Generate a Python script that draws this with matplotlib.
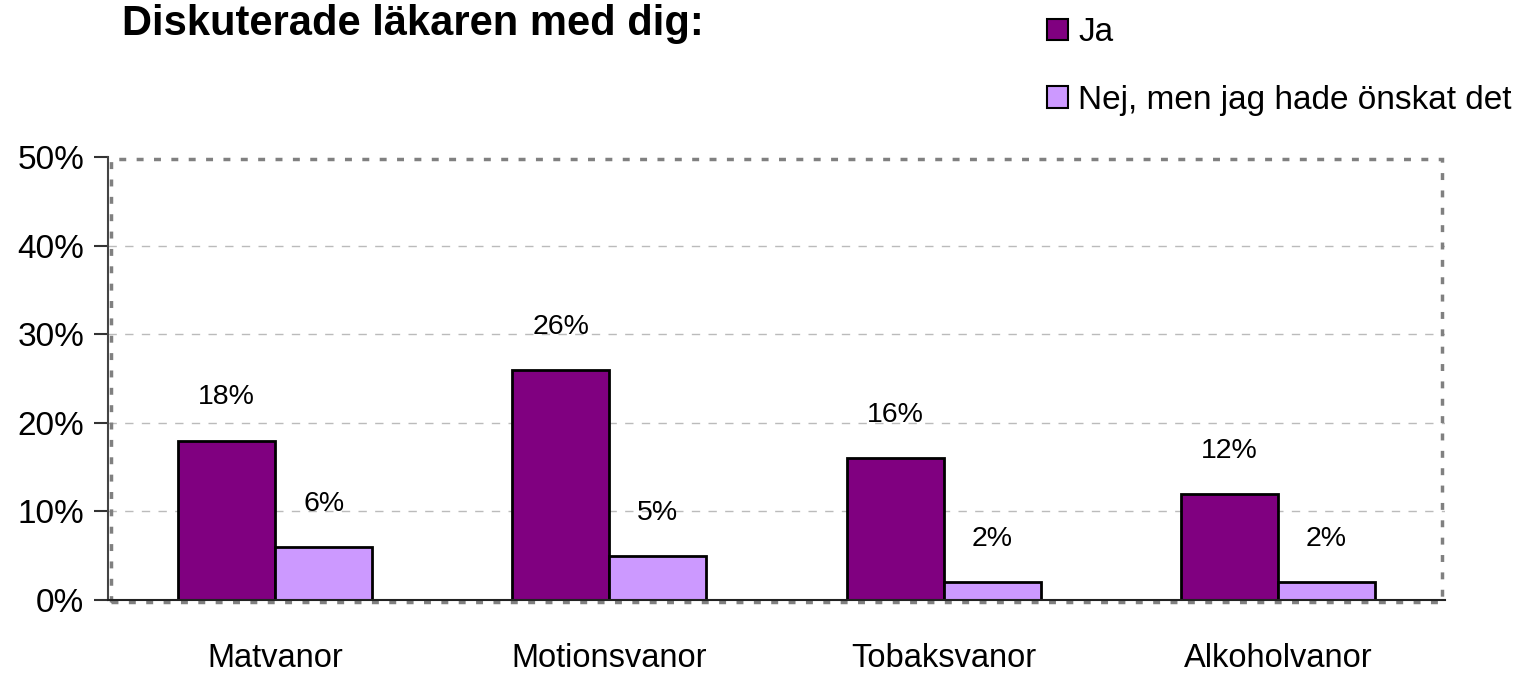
import matplotlib
matplotlib.use("Agg")
import matplotlib.pyplot as plt
from matplotlib.patches import Rectangle
import numpy as np

categories = ["Matvanor", "Motionsvanor", "Tobaksvanor", "Alkoholvanor"]
ja = [18, 26, 16, 12]
nej = [6, 5, 2, 2]
series_names = ["Ja", "Nej, men jag hade önskat det"]
yticks = [0, 10, 20, 30, 40, 50]
title = "Diskuterade läkaren med dig:"

plt.rcParams['font.family'] = ['Liberation Sans', 'DejaVu Sans']

W, H = 1533, 675
fig = plt.figure(figsize=(W/100, H/100), dpi=100)
ax = fig.add_axes([108/W, 1-600/H, (1445-108)/W, (600-157)/H])

x = np.arange(len(categories)) + 0.5
bw = 0.29
c_ja = "#800080"
c_nej = "#CC99FF"
ax.bar(x - bw/2, ja, bw, color=c_ja, edgecolor="black", linewidth=2, zorder=3)
ax.bar(x + bw/2, nej, bw, color=c_nej, edgecolor="black", linewidth=2, zorder=3)

for xi, v in zip(x - bw/2, ja):
    ax.annotate(f"{v}%", (xi, v), xytext=(0, 31), textcoords="offset points",
                ha="center", va="center", fontsize=20.5)
for xi, v in zip(x + bw/2, nej):
    ax.annotate(f"{v}%", (xi, v), xytext=(0, 31), textcoords="offset points",
                ha="center", va="center", fontsize=20.5)

ax.set_xlim(0, len(categories))
ax.set_ylim(0, 50)
ax.set_yticks(yticks)
ax.set_yticklabels([f"{t}%" for t in yticks], fontsize=24)
ax.set_xticks(x)
ax.set_xticklabels(categories, fontsize=23.5)
ax.tick_params(axis="x", length=0, pad=31)
ax.tick_params(axis="y", length=10, width=1.5, color="#333333", pad=7, direction="out")

for t in yticks[1:-1]:
    ax.axhline(t, color="#BBBBBB", linestyle=(0, (6, 6)), linewidth=1, zorder=1)

for s in ["top", "right"]:
    ax.spines[s].set_visible(False)
ax.spines["left"].set_color("#444444")
ax.spines["left"].set_linewidth(1.5)
ax.spines["bottom"].set_color("#222222")
ax.spines["bottom"].set_linewidth(1.5)
ax.spines["bottom"].set_zorder(4)

# dotted plot-area border
border = Rectangle((0.002, -0.004), 0.996, 1.0, transform=ax.transAxes, fill=False,
                   edgecolor="#808080", linewidth=2.5, linestyle=(0, (2, 3)), zorder=2,
                   clip_on=False)
ax.add_patch(border)

fig.text(122/W, 1-24/H, title, fontsize=30, fontweight="bold", va="center", ha="left")

handles = [Rectangle((0, 0), 1, 1, facecolor=c_ja, edgecolor="black", linewidth=1.5),
           Rectangle((0, 0), 1, 1, facecolor=c_nej, edgecolor="black", linewidth=1.5)]
fig.legend(handles, series_names, loc="upper left", bbox_to_anchor=(1034/W, 1-4/H),
           frameon=False, fontsize=24, handlelength=0.62, handleheight=0.62,
           handletextpad=0.3, labelspacing=1.1, borderaxespad=0)

fig.savefig("out.png", dpi=100)
